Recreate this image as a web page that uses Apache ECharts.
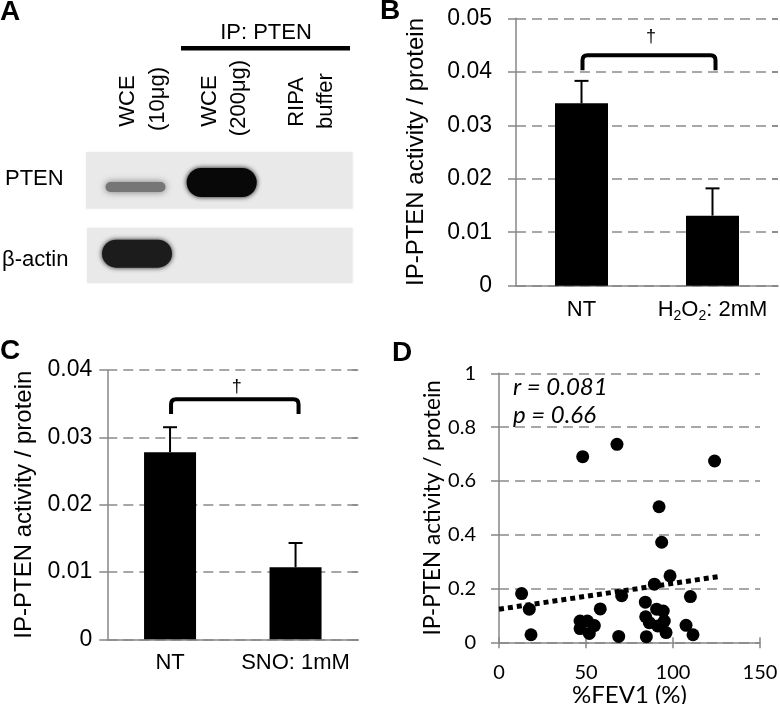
<!DOCTYPE html>
<html>
<head>
<meta charset="utf-8">
<script src="https://cdn.jsdelivr.net/npm/echarts@6/dist/echarts.min.js"></script>
<style>html,body{margin:0;padding:0;background:#fff;}#c{width:780px;height:704px;}</style>
</head>
<body>
<div id="c"></div>
<script>
// ---------- DATA ----------
const bCategories = ['NT', 'H2O2: 2mM'];
const bMeans = [0.0341, 0.0131];
const bErrors = [0.0042, 0.0051];
const bTickLabels = ['0', '0.01', '0.02', '0.03', '0.04', '0.05'];
const bBracket = [0.0431, 0.0403, 0.0465]; // top, end, dagger level

const cCategories = ['NT', 'SNO: 1mM'];
const cMeans = [0.0278, 0.0107];
const cErrors = [0.0037, 0.0036];
const cTickLabels = ['0', '0.01', '0.02', '0.03', '0.04'];
const cBracket = [0.03565, 0.03346, 0.0375];

const dFev1 = [48.1, 67.8, 123.9, 92.0, 93.5, 98.3, 89.3, 13.0, 17.4, 18.4, 46.6, 46.6, 50.8, 54.8, 51.9, 58.2, 70.5, 68.8, 84.1, 84.3, 86.4, 84.7, 90.6, 94.4, 95.0, 91.2, 96.0, 110.0, 107.5, 111.5];
const dActivity = [0.690, 0.736, 0.674, 0.504, 0.372, 0.247, 0.216, 0.181, 0.123, 0.028, 0.079, 0.051, 0.079, 0.062, 0.033, 0.124, 0.173, 0.022, 0.149, 0.095, 0.073, 0.021, 0.123, 0.116, 0.079, 0.061, 0.036, 0.170, 0.063, 0.028];
const dTrendX = [0, 126];
const dTrendY = [0.123, 0.244];
const dXTickLabels = ['0', '50', '100', '150'];
const dYTickLabels = ['0', '0.2', '0.4', '0.6', '0.8', '1'];
const dStats = ['r = 0.081', 'p = 0.66'];

// ---------- STYLE ----------
const FA = '"Liberation Sans", Arial, sans-serif';
const FD = 'Lato, "Open Sans", sans-serif';
const AXIS_GRAY = '#878787';
const GRID_LINE = {show: true, lineStyle: {color: '#8a8a8a', width: 1.5, type: [10, 6]}};

function tickFmt(labels, step) {
  return v => labels[Math.round(v / step)] ?? '';
}

function valueY(grid, max, step, labels, font, size, nameSize, margin, nameGap) {
  return {
    type: 'value', gridIndex: grid, min: 0, max: max, interval: step,
    name: 'IP-PTEN activity / protein', nameLocation: 'middle', nameRotate: 90, nameGap: nameGap,
    nameTextStyle: {fontFamily: font, fontSize: nameSize, color: '#000'},
    axisLine: {show: true, lineStyle: {color: AXIS_GRAY, width: 1.5}},
    axisTick: {show: true, length: 8, lineStyle: {color: AXIS_GRAY, width: 1.5}},
    axisLabel: {fontFamily: font, fontSize: size, color: '#000', margin: margin, formatter: tickFmt(labels, step)},
    splitLine: GRID_LINE
  };
}
function innerY(grid, max, step) {
  return {
    type: 'value', gridIndex: grid, min: 0, max: max, interval: step,
    axisLine: {show: false}, axisLabel: {show: false}, splitLine: {show: false},
    axisTick: {show: true, inside: true, length: 6, lineStyle: {color: AXIS_GRAY, width: 1.5}}
  };
}

function errorSeries(xi, yi, means, errs) {
  return {
    type: 'custom', xAxisIndex: xi, yAxisIndex: yi, z: 5, silent: true,
    data: means.map((m, i) => [i, m, m + errs[i]]),
    renderItem: (params, api) => {
      const base = api.coord([api.value(0), api.value(1)]);
      const top = api.coord([api.value(0), api.value(2)]);
      return {type: 'group', children: [
        {type: 'line', shape: {x1: base[0], y1: base[1], x2: top[0], y2: top[1]}, style: {stroke: '#000', lineWidth: 2}},
        {type: 'line', shape: {x1: top[0] - 7, y1: top[1], x2: top[0] + 7, y2: top[1]}, style: {stroke: '#000', lineWidth: 2}}
      ]};
    }
  };
}
function bracketSeries(xi, yi, br) {
  return {
    type: 'custom', xAxisIndex: xi, yAxisIndex: yi, z: 6, silent: true,
    data: [[0, 1, br[0], br[1], br[2]]],
    renderItem: (params, api) => {
      const a0 = api.coord([api.value(0), api.value(3)]);
      const a1 = api.coord([api.value(0), api.value(2)]);
      const b0 = api.coord([api.value(1), api.value(3)]);
      const d = api.coord([api.value(0), api.value(4)]);
      const r = 5;
      const x0 = a0[0] + 1, x1 = b0[0] + 3, yt = a1[1], ye = a0[1];
      const p = `M${x0},${ye} L${x0},${yt + r} Q${x0},${yt} ${x0 + r},${yt} L${x1 - r},${yt} Q${x1},${yt} ${x1},${yt + r} L${x1},${ye}`;
      return {type: 'group', children: [
        {type: 'path', shape: {pathData: p}, style: {stroke: '#000', lineWidth: 4, fill: null}},
        {type: 'text', x: (x0 + x1) / 2 + 2, y: d[1], style: {text: '\u2020', fontFamily: FA, fontSize: 18, fill: '#000', align: 'center', verticalAlign: 'middle'}}
      ]};
    }
  };
}

function catFmt(v) {
  if (v.indexOf('H2O2') === 0) return '{n|H}{s|2}{n|O}{s|2}{n|' + v.slice(4) + '}';
  return '{n|' + v + '}';
}
const richLab = {
  n: {fontFamily: FA, fontSize: 22, color: '#000', lineHeight: 26},
  s: {fontFamily: FA, fontSize: 14, color: '#000', lineHeight: 16, verticalAlign: 'bottom'}
};

// ---------- PANEL A (blot, drawn) ----------
function txt(t, x, y, o) {
  o = o || {};
  const size = o.size || 22;
  return {type: 'text', x: x, y: y, rotation: o.rot || 0, style: {
    text: t, fontFamily: o.font || FA, fontSize: size, fontWeight: o.weight || 'normal',
    fontStyle: o.style || 'normal', fill: '#000', align: o.align || 'center', verticalAlign: 'middle'}};
}
function band(cx, cy, w, h, fill, blur) {
  return {type: 'rect', shape: {x: cx - w / 2, y: cy - h / 2, width: w, height: h, r: h / 2},
    style: {fill: fill, shadowBlur: blur, shadowColor: fill}};
}
const R = Math.PI / 2;
const graphics = [
  txt('A', 10, 12, {size: 28, weight: 'bold'}),
  txt('B', 390, 11, {size: 28, weight: 'bold'}),
  txt('C', 10, 351, {size: 28, weight: 'bold'}),
  txt('D', 402, 353, {size: 28, weight: 'bold'}),
  txt('IP: PTEN', 266, 33),
  {type: 'rect', shape: {x: 181, y: 46, width: 169, height: 4.5}, style: {fill: '#000'}},
  txt('WCE', 127.5, 101, {rot: R}),
  txt('(10\u03bcg)', 157.5, 99, {rot: R}),
  txt('WCE', 209.5, 101, {rot: R}),
  txt('(200\u03bcg)', 238.5, 98, {rot: R}),
  txt('RIPA', 296.5, 102, {rot: R}),
  txt('buffer', 325.5, 101, {rot: R}),
  {type: 'rect', shape: {x: 86, y: 152, width: 266.5, height: 56.5}, style: {fill: '#e9e9e9', shadowBlur: 2, shadowColor: '#eeeeee'}},
  {type: 'rect', shape: {x: 87, y: 227.7, width: 265.5, height: 55.5}, style: {fill: '#e9e9e9', shadowBlur: 2, shadowColor: '#eeeeee'}},
  band(135.5, 187, 60, 10, '#767676', 7),
  band(221.7, 182.5, 70, 29, '#080808', 5),
  band(137, 253.7, 70, 28, '#1c1c1c', 5),
  txt('PTEN', 5, 179, {align: 'left'}),
  txt('\u03b2-actin', 2, 260, {align: 'left'}),
  txt(dStats[0], 513, 387, {font: FD, size: 24, style: 'italic', align: 'left'}),
  txt(dStats[1], 513, 415, {font: FD, size: 24, style: 'italic', align: 'left'})
];

// ---------- OPTION ----------
const option = {
  backgroundColor: '#fff',
  animation: false,
  grid: [
    {left: 516, top: 18.3, width: 262, height: 267.4, outerBoundsMode: 'none', containLabel: false},
    {left: 107.3, top: 370, width: 251, height: 269.3, outerBoundsMode: 'none', containLabel: false},
    {left: 499, top: 373.3, width: 261, height: 269, outerBoundsMode: 'none', containLabel: false}
  ],
  xAxis: [
    {type: 'category', gridIndex: 0, data: bCategories,
      axisLine: {lineStyle: {color: AXIS_GRAY, width: 1.5}},
      axisTick: {length: 8, lineStyle: {color: AXIS_GRAY, width: 1.5}},
      axisLabel: {interval: 0, hideOverlap: false, margin: 11, formatter: catFmt, rich: richLab}},
    {type: 'category', gridIndex: 0, data: bCategories, position: 'bottom',
      axisLine: {show: false}, axisLabel: {show: false},
      axisTick: {alignWithLabel: true, length: 6, lineStyle: {color: AXIS_GRAY, width: 1.5}}},
    {type: 'category', gridIndex: 1, data: cCategories,
      axisLine: {lineStyle: {color: AXIS_GRAY, width: 1.5}},
      axisTick: {length: 8, lineStyle: {color: AXIS_GRAY, width: 1.5}},
      axisLabel: {interval: 0, hideOverlap: false, margin: 11, formatter: catFmt, rich: richLab}},
    {type: 'value', gridIndex: 2, min: 0, max: 150, interval: 50,
      name: '%FEV1 (%)', nameLocation: 'middle', nameGap: 38,
      nameTextStyle: {fontFamily: FD, fontSize: 24, color: '#000'},
      axisLine: {lineStyle: {color: AXIS_GRAY, width: 1.5}},
      axisTick: {length: 6, lineStyle: {color: AXIS_GRAY, width: 1.5}},
      axisLabel: {fontFamily: FD, fontSize: 20, color: '#000', margin: 20, formatter: tickFmt(dXTickLabels, 50)},
      splitLine: {show: false}},
    {type: 'value', gridIndex: 2, min: 0, max: 150, interval: 50, position: 'bottom',
      axisLine: {show: false}, axisLabel: {show: false}, splitLine: {show: false},
      axisTick: {inside: true, length: 5, lineStyle: {color: AXIS_GRAY, width: 1.5}}}
  ],
  yAxis: [
    valueY(0, 0.05, 0.01, bTickLabels, FA, 23, 24, 24, 88),
    innerY(0, 0.05, 0.01),
    valueY(1, 0.04, 0.01, cTickLabels, FA, 23, 24, 15, 71),
    innerY(1, 0.04, 0.01),
    valueY(2, 1, 0.2, dYTickLabels, FD, 20, 22.5, 23, 54),
    innerY(2, 1, 0.2)
  ],
  series: [
    {type: 'bar', xAxisIndex: 0, yAxisIndex: 0, data: bMeans, barWidth: 53, itemStyle: {color: '#000'}, silent: true},
    errorSeries(0, 0, bMeans, bErrors),
    bracketSeries(0, 0, bBracket),
    {type: 'bar', xAxisIndex: 2, yAxisIndex: 2, data: cMeans, barWidth: 52, itemStyle: {color: '#000'}, silent: true},
    errorSeries(2, 2, cMeans, cErrors),
    bracketSeries(2, 2, cBracket),
    {type: 'scatter', xAxisIndex: 3, yAxisIndex: 4, symbol: 'circle', symbolSize: 13,
      itemStyle: {color: '#000', opacity: 1}, data: dFev1.map((x, i) => [x, dActivity[i]]), z: 3, silent: true},
    {type: 'line', xAxisIndex: 3, yAxisIndex: 4, showSymbol: false, symbol: 'none', z: 4, silent: true,
      lineStyle: {color: '#000', width: 5, type: [5, 4], cap: 'butt'},
      data: dTrendX.map((x, i) => [x, dTrendY[i]])}
  ],
  graphic: graphics
};

const chart = echarts.init(document.getElementById('c'), null, {renderer: 'canvas'});
chart.setOption(option);
</script>
</body>
</html>
